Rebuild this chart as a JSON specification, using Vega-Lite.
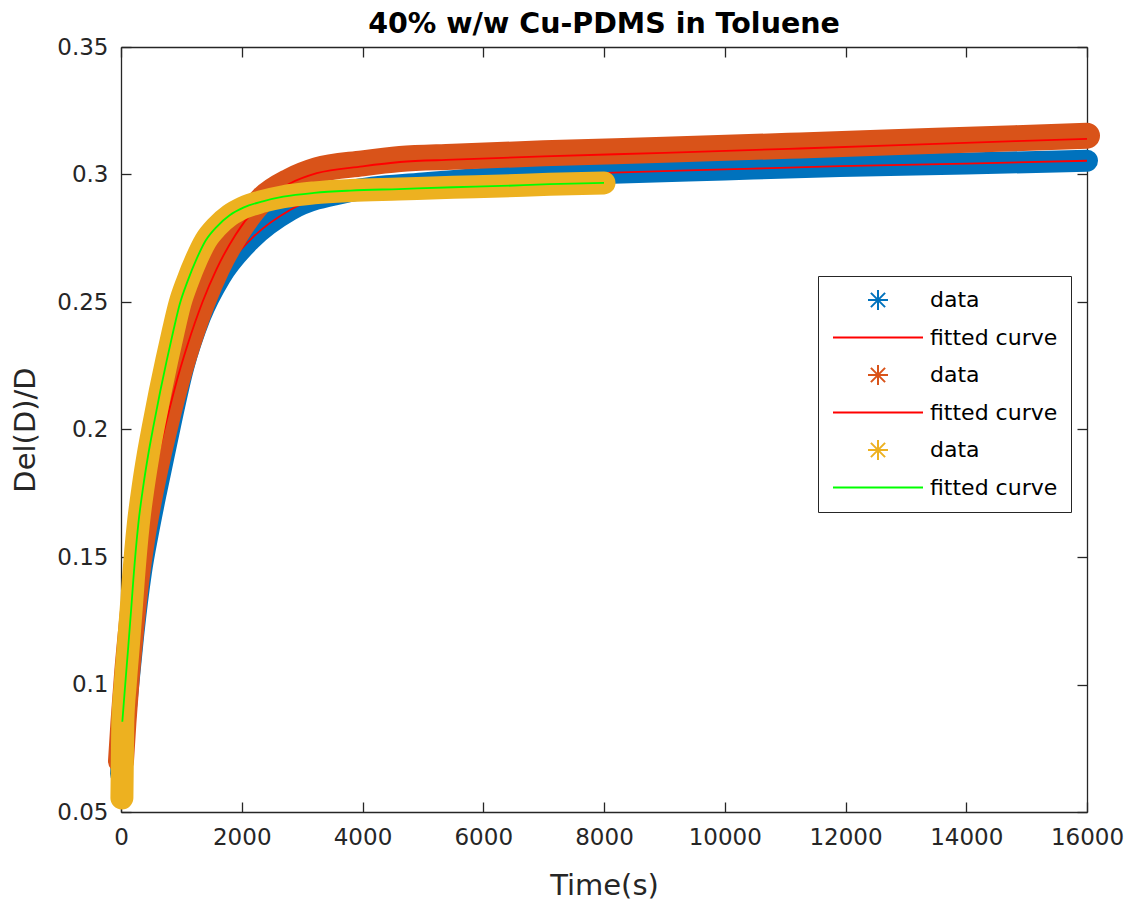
{
  "$schema": "https://vega.github.io/schema/vega-lite/v6.json",
  "width": 966,
  "height": 765,
  "autosize": {"type": "none"},
  "padding": {"left": 121, "top": 47, "right": 43, "bottom": 97},
  "background": "white",
  "title": {"text": "40% w/w Cu-PDMS in Toluene", "fontSize": 28.5, "font": "DejaVu Sans", "fontWeight": "bold", "color": "#000000", "anchor": "middle", "offset": -2},
  "datasets": {
    "d": [
      {"key": "d1", "t": 0, "v": 0.065}, {"key": "d1", "t": 50, "v": 0.082}, {"key": "d1", "t": 120, "v": 0.1}, {"key": "d1", "t": 200, "v": 0.119}, {"key": "d1", "t": 330, "v": 0.144}, {"key": "d1", "t": 450, "v": 0.16}, {"key": "d1", "t": 580, "v": 0.1755}, {"key": "d1", "t": 700, "v": 0.189}, {"key": "d1", "t": 811, "v": 0.2015}, {"key": "d1", "t": 1032, "v": 0.2245}, {"key": "d1", "t": 1308, "v": 0.2442}, {"key": "d1", "t": 1640, "v": 0.2598}, {"key": "d1", "t": 2137, "v": 0.2743}, {"key": "d1", "t": 2800, "v": 0.2861}, {"key": "d1", "t": 3800, "v": 0.2935}, {"key": "d1", "t": 5000, "v": 0.2965}, {"key": "d1", "t": 6500, "v": 0.299}, {"key": "d1", "t": 8154, "v": 0.3007}, {"key": "d1", "t": 10000, "v": 0.302}, {"key": "d1", "t": 11909, "v": 0.3033}, {"key": "d1", "t": 14000, "v": 0.3043}, {"key": "d1", "t": 16000, "v": 0.3054},
      {"key": "f1", "t": 0, "v": 0.065}, {"key": "f1", "t": 50, "v": 0.082}, {"key": "f1", "t": 120, "v": 0.1}, {"key": "f1", "t": 200, "v": 0.119}, {"key": "f1", "t": 330, "v": 0.144}, {"key": "f1", "t": 450, "v": 0.16}, {"key": "f1", "t": 580, "v": 0.1755}, {"key": "f1", "t": 700, "v": 0.189}, {"key": "f1", "t": 811, "v": 0.2015}, {"key": "f1", "t": 1032, "v": 0.2245}, {"key": "f1", "t": 1308, "v": 0.2442}, {"key": "f1", "t": 1640, "v": 0.2598}, {"key": "f1", "t": 2137, "v": 0.2743}, {"key": "f1", "t": 2800, "v": 0.2861}, {"key": "f1", "t": 3800, "v": 0.2935}, {"key": "f1", "t": 5000, "v": 0.2965}, {"key": "f1", "t": 6500, "v": 0.299}, {"key": "f1", "t": 8154, "v": 0.3007}, {"key": "f1", "t": 10000, "v": 0.302}, {"key": "f1", "t": 11909, "v": 0.3033}, {"key": "f1", "t": 14000, "v": 0.3043}, {"key": "f1", "t": 16000, "v": 0.3054},
      {"key": "d2", "t": 0, "v": 0.07}, {"key": "d2", "t": 40, "v": 0.085}, {"key": "d2", "t": 100, "v": 0.104}, {"key": "d2", "t": 170, "v": 0.122}, {"key": "d2", "t": 250, "v": 0.14}, {"key": "d2", "t": 350, "v": 0.157}, {"key": "d2", "t": 470, "v": 0.173}, {"key": "d2", "t": 620, "v": 0.19}, {"key": "d2", "t": 760, "v": 0.204}, {"key": "d2", "t": 900, "v": 0.217}, {"key": "d2", "t": 1100, "v": 0.233}, {"key": "d2", "t": 1350, "v": 0.25}, {"key": "d2", "t": 1585, "v": 0.263}, {"key": "d2", "t": 1900, "v": 0.2765}, {"key": "d2", "t": 2350, "v": 0.2905}, {"key": "d2", "t": 2800, "v": 0.2975}, {"key": "d2", "t": 3243, "v": 0.3017}, {"key": "d2", "t": 4000, "v": 0.3044}, {"key": "d2", "t": 4621, "v": 0.3061}, {"key": "d2", "t": 5500, "v": 0.307}, {"key": "d2", "t": 7000, "v": 0.3083}, {"key": "d2", "t": 9000, "v": 0.3097}, {"key": "d2", "t": 11246, "v": 0.3114}, {"key": "d2", "t": 13500, "v": 0.3132}, {"key": "d2", "t": 16000, "v": 0.3152},
      {"key": "f2", "t": 0, "v": 0.068}, {"key": "f2", "t": 40, "v": 0.085}, {"key": "f2", "t": 100, "v": 0.104}, {"key": "f2", "t": 170, "v": 0.122}, {"key": "f2", "t": 250, "v": 0.14}, {"key": "f2", "t": 350, "v": 0.157}, {"key": "f2", "t": 470, "v": 0.173}, {"key": "f2", "t": 620, "v": 0.19}, {"key": "f2", "t": 760, "v": 0.204}, {"key": "f2", "t": 900, "v": 0.217}, {"key": "f2", "t": 1100, "v": 0.233}, {"key": "f2", "t": 1350, "v": 0.25}, {"key": "f2", "t": 1585, "v": 0.263}, {"key": "f2", "t": 1900, "v": 0.2765}, {"key": "f2", "t": 2350, "v": 0.2895}, {"key": "f2", "t": 2800, "v": 0.2965}, {"key": "f2", "t": 3243, "v": 0.3005}, {"key": "f2", "t": 4000, "v": 0.3032}, {"key": "f2", "t": 4621, "v": 0.3049}, {"key": "f2", "t": 5500, "v": 0.3058}, {"key": "f2", "t": 7000, "v": 0.3071}, {"key": "f2", "t": 9000, "v": 0.3085}, {"key": "f2", "t": 11246, "v": 0.3102}, {"key": "f2", "t": 13500, "v": 0.312}, {"key": "f2", "t": 16000, "v": 0.314},
      {"key": "d3", "t": 15, "v": 0.0555}, {"key": "d3", "t": 22, "v": 0.07}, {"key": "d3", "t": 30, "v": 0.0854}, {"key": "d3", "t": 70, "v": 0.1}, {"key": "d3", "t": 121, "v": 0.115}, {"key": "d3", "t": 170, "v": 0.13}, {"key": "d3", "t": 204, "v": 0.141}, {"key": "d3", "t": 287, "v": 0.163}, {"key": "d3", "t": 370, "v": 0.178}, {"key": "d3", "t": 450, "v": 0.19}, {"key": "d3", "t": 535, "v": 0.201}, {"key": "d3", "t": 650, "v": 0.215}, {"key": "d3", "t": 757, "v": 0.227}, {"key": "d3", "t": 870, "v": 0.239}, {"key": "d3", "t": 977, "v": 0.2495}, {"key": "d3", "t": 1100, "v": 0.258}, {"key": "d3", "t": 1254, "v": 0.267}, {"key": "d3", "t": 1400, "v": 0.274}, {"key": "d3", "t": 1585, "v": 0.2795}, {"key": "d3", "t": 1800, "v": 0.284}, {"key": "d3", "t": 2026, "v": 0.287}, {"key": "d3", "t": 2350, "v": 0.2895}, {"key": "d3", "t": 2688, "v": 0.2913}, {"key": "d3", "t": 3200, "v": 0.2928}, {"key": "d3", "t": 3800, "v": 0.2937}, {"key": "d3", "t": 4600, "v": 0.2943}, {"key": "d3", "t": 5500, "v": 0.295}, {"key": "d3", "t": 6300, "v": 0.2955}, {"key": "d3", "t": 7100, "v": 0.2962}, {"key": "d3", "t": 8000, "v": 0.2967},
      {"key": "f3", "t": 22, "v": 0.0854}, {"key": "f3", "t": 70, "v": 0.1}, {"key": "f3", "t": 121, "v": 0.115}, {"key": "f3", "t": 170, "v": 0.13}, {"key": "f3", "t": 204, "v": 0.141}, {"key": "f3", "t": 287, "v": 0.163}, {"key": "f3", "t": 370, "v": 0.178}, {"key": "f3", "t": 450, "v": 0.19}, {"key": "f3", "t": 535, "v": 0.201}, {"key": "f3", "t": 650, "v": 0.215}, {"key": "f3", "t": 757, "v": 0.227}, {"key": "f3", "t": 870, "v": 0.239}, {"key": "f3", "t": 977, "v": 0.2495}, {"key": "f3", "t": 1100, "v": 0.258}, {"key": "f3", "t": 1254, "v": 0.267}, {"key": "f3", "t": 1400, "v": 0.274}, {"key": "f3", "t": 1585, "v": 0.2795}, {"key": "f3", "t": 1800, "v": 0.284}, {"key": "f3", "t": 2026, "v": 0.287}, {"key": "f3", "t": 2350, "v": 0.2895}, {"key": "f3", "t": 2688, "v": 0.2913}, {"key": "f3", "t": 3200, "v": 0.2928}, {"key": "f3", "t": 3800, "v": 0.2937}, {"key": "f3", "t": 4600, "v": 0.2943}, {"key": "f3", "t": 5500, "v": 0.295}, {"key": "f3", "t": 6300, "v": 0.2955}, {"key": "f3", "t": 7100, "v": 0.2962}, {"key": "f3", "t": 8000, "v": 0.2967}
    ]
  },
  "data": {"name": "d"},
  "resolve": {"axis": {"x": "independent", "y": "independent"}},
  "layer": [
    {
      "encoding": {
        "x": {"field": "t", "type": "quantitative", "scale": {"domain": [0, 16000], "nice": false, "zero": false},
              "axis": {"orient": "bottom", "values": [0, 2000, 4000, 6000, 8000, 10000, 12000, 14000, 16000], "format": "d", "title": "Time(s)", "labelPadding": 24, "titlePadding": 22, "labelFlush": false}},
        "y": {"field": "v", "type": "quantitative", "scale": {"domain": [0.05, 0.35], "nice": false, "zero": false},
              "axis": {"orient": "left", "values": [0.05, 0.1, 0.15, 0.2, 0.25, 0.3, 0.35], "format": "~g", "title": "Del(D)/D", "labelPadding": 23, "titlePadding": 16, "labelFlush": false}}
      },
      "layer": [
        {"transform": [{"filter": "datum.key == 'd1'"}], "mark": {"type": "line", "color": "#0072BD", "strokeWidth": 22, "strokeCap": "round", "strokeJoin": "round", "interpolate": "monotone"}},
        {"transform": [{"filter": "datum.key == 'f1'"}], "mark": {"type": "line", "color": "#FF0000", "strokeWidth": 1.8, "interpolate": "monotone"}},
        {"transform": [{"filter": "datum.key == 'd2'"}], "mark": {"type": "line", "color": "#D95319", "strokeWidth": 26, "strokeCap": "round", "strokeJoin": "round", "interpolate": "monotone"}},
        {"transform": [{"filter": "datum.key == 'f2'"}], "mark": {"type": "line", "color": "#FF0000", "strokeWidth": 1.8, "interpolate": "monotone"}},
        {"transform": [{"filter": "datum.key == 'd3'"}], "mark": {"type": "line", "color": "#EDB120", "strokeWidth": 23, "strokeCap": "round", "strokeJoin": "round", "interpolate": "monotone"}},
        {"transform": [{"filter": "datum.key == 'f3'"}], "mark": {"type": "line", "color": "#00FF00", "strokeWidth": 1.8, "interpolate": "monotone"}}
      ]
    },
    {
      "transform": [{"filter": "false"}],
      "mark": {"type": "point", "filled": false},
      "encoding": {
        "x": {"field": "t", "type": "quantitative", "scale": {"domain": [0, 16000], "nice": false, "zero": false},
              "axis": {"orient": "top", "values": [0, 2000, 4000, 6000, 8000, 10000, 12000, 14000, 16000], "labels": false, "title": null}},
        "y": {"field": "v", "type": "quantitative", "scale": {"domain": [0.05, 0.35], "nice": false, "zero": false},
              "axis": {"orient": "right", "values": [0.05, 0.1, 0.15, 0.2, 0.25, 0.3, 0.35], "labels": false, "title": null}},
        "color": {"field": "key", "type": "nominal",
                  "scale": {"domain": ["d1", "f1", "d2", "f2", "d3", "f3"], "range": ["#0072BD", "#FF0000", "#D95319", "#FF0000", "#EDB120", "#00FF00"]},
                  "legend": {"orient": "none", "legendX": 697, "legendY": 229, "title": null,
                             "labelExpr": "slice(datum.label, 0, 1) == 'd' ? 'data' : 'fitted curve'",
                             "symbolSize": 400, "symbolStrokeWidth": 2, "symbolOpacity": 1, "symbolFillColor": "transparent",
                             "strokeColor": "#262626", "fillColor": "#ffffff", "padding": 13, "rowPadding": 12.5,
                             "symbolOffset": 36, "labelOffset": 41, "labelFontSize": 22, "labelFont": "DejaVu Sans", "labelColor": "#000000", "labelLimit": 300}},
        "shape": {"field": "key", "type": "nominal",
                  "scale": {"domain": ["d1", "f1", "d2", "f2", "d3", "f3"],
                            "range": ["M-1,0L1,0M0,-1L0,1M-0.71,-0.71L0.71,0.71M-0.71,0.71L0.71,-0.71", "M-4.5,0L4.5,0", "M-1,0L1,0M0,-1L0,1M-0.71,-0.71L0.71,0.71M-0.71,0.71L0.71,-0.71", "M-4.5,0L4.5,0", "M-1,0L1,0M0,-1L0,1M-0.71,-0.71L0.71,0.71M-0.71,0.71L0.71,-0.71", "M-4.5,0L4.5,0"]},
                  "legend": {"orient": "none", "legendX": 697, "legendY": 229, "title": null,
                             "labelExpr": "slice(datum.label, 0, 1) == 'd' ? 'data' : 'fitted curve'",
                             "symbolSize": 400, "symbolStrokeWidth": 2, "symbolOpacity": 1, "symbolFillColor": "transparent",
                             "strokeColor": "#262626", "fillColor": "#ffffff", "padding": 13, "rowPadding": 12.5,
                             "symbolOffset": 36, "labelOffset": 41, "labelFontSize": 22, "labelFont": "DejaVu Sans", "labelColor": "#000000", "labelLimit": 300}}
      }
    }
  ],
  "config": {
    "view": {"stroke": null},
    "font": "DejaVu Sans",
    "axis": {
      "grid": false,
      "domainColor": "#262626", "domainWidth": 1.3,
      "tickColor": "#262626", "tickWidth": 1.3, "tickSize": -10,
      "labelFont": "DejaVu Sans", "labelFontSize": 23, "labelColor": "#262626",
      "titleFont": "DejaVu Sans", "titleFontSize": 29, "titleFontWeight": "normal", "titleColor": "#262626"
    }
  }
}
